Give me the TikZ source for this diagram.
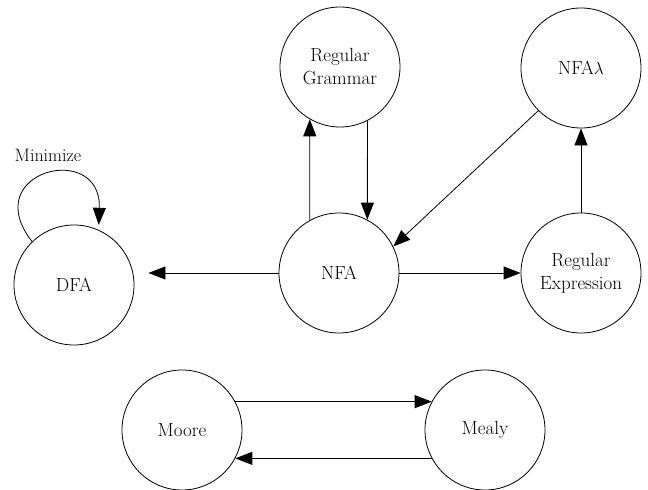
\documentclass[tikz,border=0pt]{standalone}
\usetikzlibrary{arrows.meta,positioning,calc}

\begin{document}
\begin{tikzpicture}[x=1pt, y=1pt, line width=0.8pt,
                state/.style={circle, draw, minimum size=120pt, inner sep=0pt,
                              align=center, font=\fontsize{19}{23}\selectfont},
                lbl/.style={inner sep=0pt, font=\fontsize{18}{20}\selectfont},
                arr/.style={-{Triangle[length=17pt, width=13pt]}}
            ]
\useasboundingbox (0,0) rectangle (648,-490);

% --- states (centres) ---
                \node[state] (rg)    at (340,-67)  {Regular\\Grammar};
                \node[state] (nfal)  at (581,-68)  {NFA$\lambda$};
                \node[state] (dfa)   at (74,-285)  {DFA};
                \node[state] (nfa)   at (339,-273) {NFA};
                \node[state] (re)    at (581,-273) {Regular\\Expression};
                \node[state] (moore) at (182,-430) {Moore};
                \node[state] (mealy) at (485,-430) {Mealy};

                \node[lbl] (minlbl) at (48,-155) {Minimize};

% --- transitions ---
                \draw[arr] (nfa.119) -- (rg.240);   % up to the grammar
                \draw[arr] (rg.297) -- (nfa.62);    % and back down
                \draw[arr] (nfal.225) -- (nfa.26);
                \draw[arr] (re.north) -- (nfal.south);
                \draw[arr] (nfa.east) -- (re.west);
                \draw[arr, shorten >=14pt] (nfa.west) -- (nfa.west -| dfa.east);

                % self loop on the DFA
                \draw[arr, shorten >=5pt] (dfa.134) to[out=128, in=88, looseness=3.4] (dfa.66);

                \draw[arr] (moore.28) -- (mealy.152);
                \draw[arr] (mealy.208) -- (moore.-28);

            \end{tikzpicture}
\end{document}
